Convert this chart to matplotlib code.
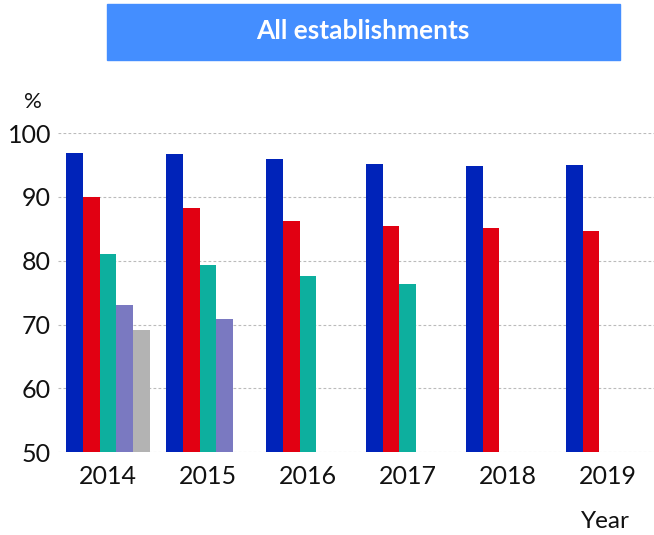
import matplotlib.pyplot as plt
from matplotlib.patches import Rectangle
import numpy as np

plt.rcParams['font.family'] = ['Lato', 'DejaVu Sans']

years = ["2014", "2015", "2016", "2017", "2018", "2019"]
# one series per bar slot within a year group (nan = no bar)
s1 = [96.9, 96.7, 95.9, 95.1, 94.9, 95.0]
s2 = [90.0, 88.2, 86.3, 85.5, 85.2, 84.6]
s3 = [81.1, 79.4, 77.6, 76.3, np.nan, np.nan]
s4 = [73.1, 70.9, np.nan, np.nan, np.nan, np.nan]
s5 = [69.1, np.nan, np.nan, np.nan, np.nan, np.nan]
series = [s1, s2, s3, s4, s5]
colors = ["#0023B9", "#E10012", "#0DAF9E", "#7A79C1", "#B3B3B3"]

fig = plt.figure(figsize=(6.54, 5.35), dpi=100)
ax = fig.add_axes([0.0887, 0.155, 0.917, 0.596])

x = np.arange(len(years))
w = 0.167
for i, (vals, c) in enumerate(zip(series, colors)):
    ax.bar(x + (i - 2) * w, vals, width=w, color=c, zorder=3)

ax.set_ylim(50, 100)
ax.set_xlim(-0.5, 5.5)
ax.set_yticks([50, 60, 70, 80, 90, 100])
ax.set_xticks(x)
ax.set_xticklabels(years)
ax.tick_params(length=0, labelsize=18, colors="#111111")
ax.tick_params(axis='x', pad=9)
ax.tick_params(axis='y', pad=5)
ax.grid(axis='y', color="#bbbbbb", linestyle=(0, (2.5, 2)), linewidth=0.8, zorder=0)
for sp in ax.spines.values():
    sp.set_visible(False)

fig.text(33 / 654, 1 - 102 / 535, "%", fontsize=16, ha='center', va='center', color="#111111")
fig.text(605 / 654, 1 - 521 / 535, "Year", fontsize=17.5, ha='center', va='center', color="#111111")

# title banner
fig.patches.append(Rectangle((107 / 654, 1 - 60 / 535), 513 / 654, 56 / 535,
                             transform=fig.transFigure, color="#448EFF", zorder=0))
fig.text(363 / 654, 1 - 31 / 535, "All establishments", fontsize=19, fontweight='bold',
         color='white', ha='center', va='center')

plt.savefig("out.png", dpi=100)
